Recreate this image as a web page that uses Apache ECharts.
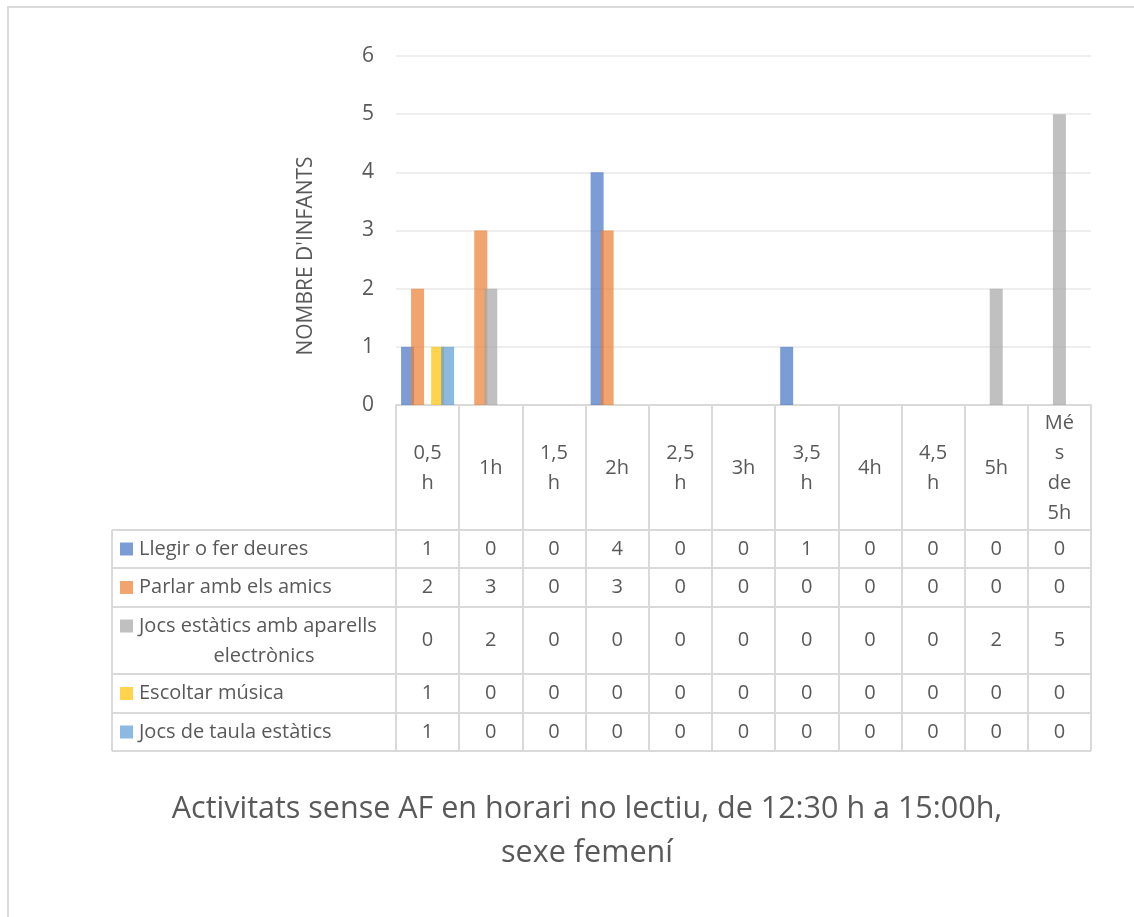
<!DOCTYPE html>
<html>
<head>
<meta charset="utf-8">
<script src="https://cdn.jsdelivr.net/npm/echarts@6/dist/echarts.min.js"></script>
<style>
  html, body { margin: 0; padding: 0; background: #ffffff; }
  #chart { width: 1134px; height: 917px; }
</style>
</head>
<body>
<div id="chart"></div>
<script>
// Hours spent on each sedentary activity (columns of the data table)
const headerLabels = ['0,5\nh', '1h', '1,5\nh', '2h', '2,5\nh', '3h', '3,5\nh', '4h', '4,5\nh', '5h', 'Mé\ns\nde\n5h'];

const seriesNames = [
  'Llegir o fer deures',
  'Parlar amb els amics',
  'Jocs estàtics amb aparells electrònics',
  'Escoltar música',
  'Jocs de taula estàtics'
];

const llegir      = [1, 0, 0, 4, 0, 0, 1, 0, 0, 0, 0];
const parlar      = [2, 3, 0, 3, 0, 0, 0, 0, 0, 0, 0];
const jocsElectr  = [0, 2, 0, 0, 0, 0, 0, 0, 0, 2, 5];
const musica      = [1, 0, 0, 0, 0, 0, 0, 0, 0, 0, 0];
const jocsTaula   = [1, 0, 0, 0, 0, 0, 0, 0, 0, 0, 0];

const yTicks = [0, 1, 2, 3, 4, 5, 6];

const seriesData = [llegir, parlar, jocsElectr, musica, jocsTaula];
const colors = ['#4472C4', '#ED7D31', '#A5A5A5', '#FFC000', '#5B9BD5'];

const FONT = '"Open Sans", "DejaVu Sans", sans-serif';
const TEXT = '#595959';
const LINE = '#d9d9d9';
const TABLE_FS = 20;

// Table geometry (pixels)
const gridLeft = 396, gridRight = 1091, axisY = 405;
const tableLeft = 112;
const rowEdges = [530, 568, 607, 674, 713, 751];

const chart = echarts.init(document.getElementById('chart'), null, { renderer: 'canvas' });

// One extra x axis per table row; its labels print that row's values
const rowAxes = seriesData.map((vals, k) => ({
  type: 'category',
  gridIndex: 0,
  position: 'bottom',
  data: headerLabels,
  axisLine: { show: false },
  axisTick: { show: false },
  axisLabel: {
    interval: 0,
    margin: (rowEdges[k] + rowEdges[k + 1]) / 2 - axisY,
    verticalAlign: 'middle',
    fontFamily: FONT,
    fontSize: TABLE_FS,
    color: TEXT,
    formatter: (v, i) => String(vals[i])
  }
}));

// Legend column of the table: key squares, names and row lines
const graphics = [];
graphics.push({
  type: 'rect', silent: true,
  shape: { x: 8, y: 7, width: 1200, height: 1000 },
  style: { fill: null, stroke: LINE, lineWidth: 2 }
});
rowEdges.forEach(y => {
  graphics.push({
    type: 'line', silent: true,
    shape: { x1: tableLeft, y1: y, x2: gridRight, y2: y },
    style: { stroke: LINE, lineWidth: 2 }
  });
});
graphics.push({
  type: 'line', silent: true,
  shape: { x1: tableLeft, y1: rowEdges[0], x2: tableLeft, y2: rowEdges[rowEdges.length - 1] },
  style: { stroke: LINE, lineWidth: 2 }
});
const labelFont = TABLE_FS + 'px ' + FONT;
seriesNames.forEach((name, k) => {
  const cy = (rowEdges[k] + rowEdges[k + 1]) / 2;
  const twoLines = k === 2;
  const keyY = twoLines ? rowEdges[k] + 19 : cy;
  graphics.push({
    type: 'rect', silent: true,
    shape: { x: 120, y: keyY - 6.5, width: 13, height: 13 },
    style: { fill: colors[k], opacity: 0.7 }
  });
  if (twoLines) {
    graphics.push({
      type: 'text', silent: true,
      style: { x: 139, y: keyY, text: 'Jocs estàtics amb aparells', font: labelFont, fill: TEXT, textVerticalAlign: 'middle' }
    });
    graphics.push({
      type: 'text', silent: true,
      style: { x: 264, y: keyY + 30, text: 'electrònics', font: labelFont, fill: TEXT, textAlign: 'center', textVerticalAlign: 'middle' }
    });
  } else {
    graphics.push({
      type: 'text', silent: true,
      style: { x: 139, y: cy, text: name, font: labelFont, fill: TEXT, textVerticalAlign: 'middle' }
    });
  }
});

// Vertical value-axis title
graphics.push({
  type: 'text', silent: true,
  x: 306, y: 256, rotation: Math.PI / 2,
  style: { x: 0, y: 0, text: "NOMBRE D'INFANTS", font: '21px ' + FONT, fill: TEXT, textAlign: 'center', textVerticalAlign: 'middle' }
});

const option = {
  animation: false,
  backgroundColor: '#ffffff',
  title: {
    text: 'Activitats sense AF en horari no lectiu, de 12:30 h a 15:00h,\nsexe femení',
    left: 587,
    top: 782,
    textAlign: 'center',
    padding: [5, 0, 5, 0],
    textStyle: { fontFamily: FONT, fontSize: 30.5, fontWeight: 'normal', color: TEXT, lineHeight: 44 }
  },
  grid: { left: gridLeft, right: 1134 - gridRight, top: 56, bottom: 917 - axisY, containLabel: false },
  xAxis: [{
    type: 'category',
    gridIndex: 0,
    position: 'bottom',
    data: headerLabels,
    boundaryGap: true,
    axisLine: { show: true, lineStyle: { color: LINE, width: 2 } },
    axisTick: { show: true, interval: 0, length: rowEdges[rowEdges.length - 1] - axisY, lineStyle: { color: LINE, width: 2 } },
    axisLabel: {
      interval: 0,
      margin: 63,
      verticalAlign: 'middle',
      lineHeight: 30,
      fontFamily: FONT,
      fontSize: TABLE_FS,
      color: TEXT
    }
  }].concat(rowAxes),
  yAxis: {
    type: 'value',
    min: yTicks[0],
    max: yTicks[yTicks.length - 1],
    interval: 1,
    axisLine: { show: false },
    axisTick: { show: false },
    axisLabel: { fontFamily: FONT, fontSize: 21, color: TEXT, margin: 22 },
    splitLine: { lineStyle: { color: '#eeeeee', width: 2 } }
  },
  series: seriesData.map((vals, k) => ({
    name: seriesNames[k],
    type: 'bar',
    xAxisIndex: 0,
    data: vals,
    barWidth: 13,
    barGap: '-23%',
    itemStyle: { color: colors[k], opacity: 0.7 }
  })),
  graphic: graphics
};

chart.setOption(option);
</script>
</body>
</html>
